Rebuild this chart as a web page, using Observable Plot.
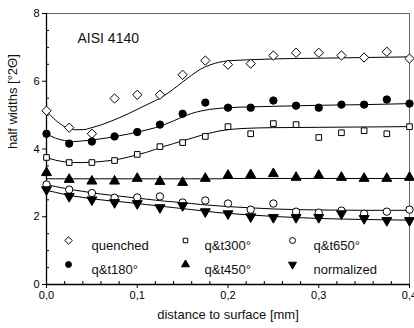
<!DOCTYPE html>
<html>
<head>
<meta charset="utf-8">
<script src="https://cdn.jsdelivr.net/npm/d3@7"></script>
<script src="https://cdn.jsdelivr.net/npm/@observablehq/plot@0.6"></script>
<style>
  html, body { margin: 0; padding: 0; background: #fff; }
  #chart { width: 414px; height: 328px; }
  svg { font-family: "Liberation Sans", Arial, Helvetica, sans-serif; }
</style>
</head>
<body>
<div id="chart"></div>
<script>
// measured points (distance in mm)
const distance = [0, 0.025, 0.05, 0.075, 0.1, 0.125, 0.15, 0.175, 0.2, 0.225, 0.25, 0.275, 0.3, 0.325, 0.35, 0.375, 0.4];
const quenched   = [5.13, 4.63, 4.45, 5.49, 5.60, 5.60, 6.19, 6.61, 6.49, 6.52, 6.76, 6.84, 6.84, 6.76, 6.70, 6.87, 6.67];
const qt180      = [4.45, 4.16, 4.22, 4.37, 4.50, 4.72, 5.04, 5.37, 5.22, 5.22, 5.43, 5.28, 5.22, 5.31, 5.31, 5.46, 5.34];
const qt300      = [3.75, 3.60, 3.60, 3.66, 3.84, 4.07, 4.19, 4.37, 4.66, 4.45, 4.75, 4.72, 4.34, 4.48, 4.54, 4.45, 4.66];
const qt450      = [3.30, 3.10, 3.05, 3.05, 3.13, 3.04, 3.01, 3.13, 3.22, 3.24, 3.27, 3.16, 3.22, 3.16, 3.13, 3.13, 3.16];
const qt650      = [2.95, 2.80, 2.70, 2.56, 2.57, 2.60, 2.42, 2.48, 2.39, 2.21, 2.39, 2.15, 2.12, 2.18, 2.09, 2.15, 2.21];
const normalized = [2.80, 2.60, 2.50, 2.42, 2.39, 2.27, 2.33, 2.15, 2.09, 2.00, 1.98, 1.98, 1.98, 2.09, 1.95, 1.89, 1.89];

// fitted curves
const fitX         = [0, 0.01, 0.02, 0.03, 0.04, 0.05, 0.06, 0.07, 0.08, 0.09, 0.1, 0.11, 0.12, 0.13, 0.14, 0.15, 0.16, 0.17, 0.18, 0.19, 0.2, 0.22, 0.25, 0.3, 0.35, 0.4];
const quenchedFit  = [5.13, 4.85, 4.66, 4.57, 4.57, 4.63, 4.71, 4.81, 4.92, 5.04, 5.17, 5.30, 5.43, 5.58, 5.77, 5.98, 6.18, 6.36, 6.48, 6.56, 6.60, 6.63, 6.66, 6.68, 6.70, 6.72];
const qt180Fit     = [4.45, 4.32, 4.25, 4.22, 4.24, 4.27, 4.30, 4.34, 4.39, 4.44, 4.50, 4.56, 4.63, 4.72, 4.83, 4.95, 5.05, 5.12, 5.17, 5.20, 5.22, 5.24, 5.26, 5.29, 5.31, 5.34];
const qt300Fit     = [3.75, 3.67, 3.62, 3.60, 3.60, 3.61, 3.63, 3.66, 3.70, 3.76, 3.83, 3.90, 3.99, 4.08, 4.16, 4.24, 4.32, 4.40, 4.47, 4.53, 4.57, 4.61, 4.63, 4.64, 4.65, 4.66];
const qt450Fit     = [3.12, 3.12, 3.12, 3.12, 3.12, 3.12, 3.12, 3.12, 3.12, 3.12, 3.12, 3.12, 3.12, 3.12, 3.12, 3.12, 3.12, 3.12, 3.12, 3.12, 3.13, 3.13, 3.13, 3.13, 3.13, 3.13];
const qt650Fit     = [2.95, 2.89, 2.84, 2.79, 2.75, 2.71, 2.67, 2.64, 2.61, 2.58, 2.55, 2.52, 2.49, 2.46, 2.44, 2.41, 2.39, 2.36, 2.34, 2.32, 2.30, 2.27, 2.23, 2.20, 2.19, 2.19];
const normalizedFit= [2.78, 2.72, 2.66, 2.61, 2.57, 2.53, 2.50, 2.47, 2.45, 2.42, 2.39, 2.36, 2.33, 2.30, 2.27, 2.24, 2.21, 2.18, 2.15, 2.12, 2.10, 2.06, 2.01, 1.95, 1.92, 1.90];

const seriesNames = ["quenched", "q&t300°", "q&t650°", "q&t180°", "q&t450°", "normalized"];
const xTicks = [0, 0.1, 0.2, 0.3, 0.4];
const xMinorTicks = [0.02, 0.04, 0.06, 0.08, 0.12, 0.14, 0.16, 0.18, 0.22, 0.24, 0.26, 0.28, 0.32, 0.34, 0.36, 0.38];
const yTicks = [0, 2, 4, 6, 8];
const yMinorTicks = [0.5, 1, 1.5, 2.5, 3, 3.5, 4.5, 5, 5.5, 6.5, 7, 7.5];
const title = "AISI 4140";
const xLabel = "distance to surface [mm]";
const yLabel = "half widths [°2Θ]";

const pts = (ys) => distance.map((d, i) => ({x: d, y: ys[i]}));
const fit = (ys) => fitX.map((d, i) => ({x: d, y: ys[i]}));

// marker styles per series (same order as seriesNames)
const styles = [
  {symbol: "diamond2", fill: "white", stroke: "black", rotate: 0, r: 4.2, data: quenched, fitData: quenchedFit},
  {symbol: "square2", fill: "white", stroke: "black", rotate: 0, r: 3.6, data: qt300, fitData: qt300Fit},
  {symbol: "circle", fill: "white", stroke: "black", rotate: 0, r: 3.7, data: qt650, fitData: qt650Fit},
  {symbol: "circle", fill: "black", stroke: "black", rotate: 0, r: 3.7, data: qt180, fitData: qt180Fit},
  {symbol: "triangle", fill: "black", stroke: "black", rotate: 0, r: 3.7, data: qt450, fitData: qt450Fit},
  {symbol: "triangle", fill: "black", stroke: "black", rotate: 180, r: 3.7, data: normalized, fitData: normalizedFit}
];

const mL = 46, mT = 13, mR = 5, mB = 44;
const legendCols = [68, 185, 292];
const legendTextCols = [91, 204, 313];
const legendRows = [240, 264];

const comma = d => d.toFixed(1).replace(".", ",");

const marks = [];
styles.forEach(s => {
  marks.push(Plot.line(fit(s.fitData), {x: "x", y: "y", curve: "monotone-x", stroke: "black", strokeWidth: 1}));
});
styles.forEach(s => {
  marks.push(Plot.dot(pts(s.data), {x: "x", y: "y", symbol: () => s.symbol, fill: s.fill, stroke: s.stroke, strokeWidth: 1, r: s.r, rotate: s.rotate}));
});
// legend
seriesNames.forEach((name, i) => {
  const s = styles[i];
  const col = i % 3, row = Math.floor(i / 3);
  marks.push(Plot.dot([name], {frameAnchor: "top-left", dx: legendCols[col] - mL, dy: legendRows[row] - mT,
    symbol: () => s.symbol, fill: s.fill, stroke: s.stroke, strokeWidth: 1, r: s.r * 0.8, rotate: s.rotate}));
  marks.push(Plot.text([name], {frameAnchor: "top-left", dx: legendTextCols[col] - mL, dy: legendRows[row] - mT,
    text: d => d, textAnchor: "start", fontSize: 13, fill: "#111"}));
});

const chart = Plot.plot({
  width: 414,
  height: 328,
  marginLeft: mL,
  marginTop: mT,
  marginRight: mR,
  marginBottom: mB,
  x: {domain: [0, 0.4]},
  y: {domain: [0, 8]},
  marks: [
    Plot.frame({stroke: "#666", strokeWidth: 1}),
    Plot.axisX(xMinorTicks, {tickSize: -3, tickFormat: () => "", label: null}),
    Plot.axisY(yMinorTicks, {tickSize: -3, tickFormat: () => "", label: null}),
    Plot.axisX(xTicks, {tickSize: 4, tickFormat: comma, fontSize: 11, tickPadding: 3, label: null, color: "black"}),
    Plot.axisY(yTicks, {tickSize: 4, tickFormat: d => String(d), fontSize: 11, tickPadding: 3, label: null, color: "black"}),
    Plot.ruleX([0], {stroke: "black", strokeWidth: 1.3}),
    Plot.ruleY([0], {stroke: "black", strokeWidth: 1.3}),
    ...marks,
    Plot.text([title], {frameAnchor: "top-left", dx: 77 - mL, dy: 33 - mT, text: d => d, textAnchor: "start", fontSize: 14, fill: "#111"}),
    Plot.text([xLabel], {frameAnchor: "bottom", dy: 34, text: d => d, fontSize: 13, fill: "#111"}),
    Plot.text([yLabel], {frameAnchor: "left", dx: -34, rotate: -90, text: d => d, fontSize: 13, fill: "#111"})
  ]
});
document.getElementById("chart").appendChild(chart);
</script>
</body>
</html>
